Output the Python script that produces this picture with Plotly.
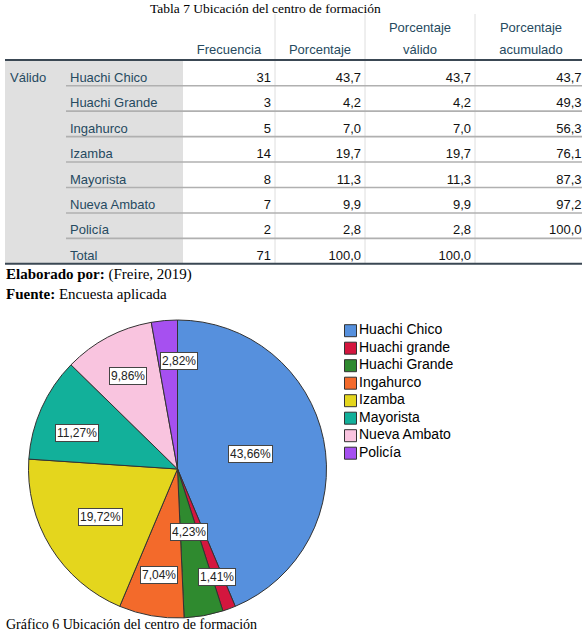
import math
import plotly.graph_objects as go

# ---------------- data ----------------
table_title = "Tabla 7 Ubicación del centro de formación"
group_label = "Válido"
categories = ["Huachi Chico", "Huachi Grande", "Ingahurco", "Izamba",
              "Mayorista", "Nueva Ambato", "Policía", "Total"]
frecuencia = [31, 3, 5, 14, 8, 7, 2, 71]
porcentaje = [43.7, 4.2, 7.0, 19.7, 11.3, 9.9, 2.8, 100.0]
porcentaje_valido = [43.7, 4.2, 7.0, 19.7, 11.3, 9.9, 2.8, 100.0]
porcentaje_acumulado = [43.7, 49.3, 56.3, 76.1, 87.3, 97.2, 100.0, None]
header_top = ["", "", "Porcentaje", "Porcentaje"]
header_bottom = ["Frecuencia", "Porcentaje", "válido", "acumulado"]
elaborado = ("Elaborado por:", "(Freire, 2019)")
fuente = ("Fuente:", "Encuesta aplicada")
chart_caption = "Gráfico 6 Ubicación del centro de formación"

pie_labels = ["Huachi Chico", "Huachi grande", "Huachi Grande", "Ingahurco",
              "Izamba", "Mayorista", "Nueva Ambato", "Policía"]
pie_counts = [31, 1, 3, 5, 14, 8, 7, 2]

# ---------------- style ----------------
pie_colors = ["#5690dd", "#d4163e", "#2f8a2f", "#f36a2b",
              "#e4d61d", "#12b09a", "#f9c4df", "#a650f0"]
W, H = 582, 633
SANS = "Liberation Sans, Arial, sans-serif"
SERIF = "Liberation Serif, Times New Roman, serif"
HEAD_COLOR = "#264A60"
NUM_COLOR = "#111111"
col_edges = [5, 66, 183, 275, 365, 475, 587]
row_text0 = 78.5
row_h = 25.45
pad = 4
header_y = (29, 51)
header_line_y = 60

pie_cx, pie_cy, pie_r = 177.5, 469, 149
label_frac = [0.5, 0.77, 0.43, 0.72, 0.61, 0.72, 0.71, 0.73]
label_dx = [0, 0, 0, 0, 0, -3, 0, 11]
label_dy = [0, 0, 0, 0, 0, 8, 0, 0]
legend_x, legend_y0, legend_dy = 350.5, 330.7, 17.5


def fmt(v):
    return "" if v is None else f"{v:.1f}".replace(".", ",")


def row_y(i):
    return row_text0 + row_h * i


n = len(categories)
rows_y = [row_y(i) for i in range(n)]
sep_y = [y + 7.2 for y in rows_y]

fig = go.Figure()

# table: group label + row labels
fig.add_trace(go.Scatter(x=[col_edges[0] + 5], y=[rows_y[0]], mode="text",
                         text=[group_label], textposition="middle right",
                         textfont=dict(family=SANS, size=13, color=HEAD_COLOR),
                         hoverinfo="skip", showlegend=False))
fig.add_trace(go.Scatter(x=[col_edges[1] + 4] * n, y=rows_y, mode="text",
                         text=categories, textposition="middle right",
                         textfont=dict(family=SANS, size=13, color=HEAD_COLOR),
                         hoverinfo="skip", showlegend=False))

# numeric columns
num_cols = [
    [str(v) for v in frecuencia],
    [fmt(v) for v in porcentaje],
    [fmt(v) for v in porcentaje_valido],
    [fmt(v) for v in porcentaje_acumulado],
]
for j, col in enumerate(num_cols):
    xr = min(col_edges[j + 3] - pad, W - 0.5)
    fig.add_trace(go.Scatter(x=[xr] * n, y=rows_y, mode="text", text=col,
                             textposition="middle left",
                             textfont=dict(family=SANS, size=13, color=NUM_COLOR),
                             hoverinfo="skip", showlegend=False, cliponaxis=False))
    xc = (col_edges[j + 2] + col_edges[j + 3]) / 2
    fig.add_trace(go.Scatter(x=[xc, xc], y=list(header_y), mode="text",
                             text=[header_top[j], header_bottom[j]],
                             textposition="middle center",
                             textfont=dict(family=SANS, size=13, color=HEAD_COLOR),
                             hoverinfo="skip", showlegend=False, cliponaxis=False))

shapes = []
shapes.append(dict(type="rect", xref="x", yref="y", x0=col_edges[0], x1=col_edges[2],
                   y0=header_line_y, y1=sep_y[-1], fillcolor="#e0e0e0",
                   line=dict(width=0), layer="below"))
for xv in col_edges[3:6]:
    shapes.append(dict(type="line", xref="x", yref="y", x0=xv, x1=xv, y0=14, y1=sep_y[-1],
                       line=dict(color="#dedede", width=1), layer="below"))
for y in sep_y[:-1]:
    shapes.append(dict(type="line", xref="x", yref="y", x0=col_edges[1], x1=col_edges[-1],
                       y0=y, y1=y, line=dict(color="#b0b0b0", width=1.6), layer="below"))
for y in (header_line_y, sep_y[-1]):
    shapes.append(dict(type="line", xref="x", yref="y", x0=col_edges[0], x1=col_edges[-1],
                       y0=y, y1=y, line=dict(color="#3a4753", width=2), layer="below"))

# pie
fig.add_trace(go.Pie(labels=pie_labels, values=pie_counts, sort=False,
                     direction="clockwise", rotation=0, textinfo="none",
                     hoverinfo="skip", showlegend=False,
                     marker=dict(colors=pie_colors, line=dict(color="#333333", width=1)),
                     domain=dict(x=[(pie_cx - pie_r) / W, (pie_cx + pie_r) / W],
                                 y=[1 - (pie_cy + pie_r) / H, 1 - (pie_cy - pie_r) / H])))

# legend (square swatches + labels)
fig.add_trace(go.Scatter(x=[legend_x] * len(pie_labels),
                         y=[legend_y0 + legend_dy * i for i in range(len(pie_labels))],
                         mode="markers+text", text=pie_labels, textposition="middle right",
                         textfont=dict(family=SANS, size=14, color="#000000"),
                         marker=dict(symbol="square", size=12, color=pie_colors,
                                     line=dict(color="#333333", width=1)),
                         hoverinfo="skip", showlegend=False, cliponaxis=False))

annotations = []
total = sum(pie_counts)
cum = 0
for i, v in enumerate(pie_counts):
    mid = (cum + v / 2) / total * 2 * math.pi
    cum += v
    f = label_frac[i]
    lx = pie_cx + f * pie_r * math.sin(mid) + label_dx[i]
    ly = pie_cy - f * pie_r * math.cos(mid) + label_dy[i]
    txt = f"{v / total * 100:.2f}%".replace(".", ",")
    annotations.append(dict(x=lx, y=ly, xref="x", yref="y", text=txt, showarrow=False,
                            font=dict(family=SANS, size=12, color="#222222"),
                            bgcolor="#ffffff", bordercolor="#444444", borderwidth=1,
                            borderpad=1))

annotations.append(dict(x=265, y=0, xref="x", yref="y", yanchor="top", text=table_title,
                        showarrow=False, borderpad=0,
                        font=dict(family=SERIF, size=13.5, color="#000000")))
annotations.append(dict(x=4, y=274, xref="x", yref="y", xanchor="left",
                        text=f"<b>{elaborado[0]}</b> {elaborado[1]}", showarrow=False,
                        font=dict(family=SERIF, size=15, color="#000000")))
annotations.append(dict(x=4, y=294, xref="x", yref="y", xanchor="left",
                        text=f"<b>{fuente[0]}</b> {fuente[1]}", showarrow=False,
                        font=dict(family=SERIF, size=15, color="#000000")))
annotations.append(dict(x=5, y=H, xref="x", yref="y", xanchor="left", yanchor="bottom",
                        text=chart_caption, showarrow=False, borderpad=0,
                        font=dict(family=SERIF, size=14, color="#000000")))

fig.update_layout(
    width=W, height=H, margin=dict(l=0, r=0, t=0, b=0),
    paper_bgcolor="#ffffff", plot_bgcolor="rgba(0,0,0,0)",
    xaxis=dict(range=[0, W], visible=False, fixedrange=True, domain=[0, 1]),
    yaxis=dict(range=[H, 0], visible=False, fixedrange=True, domain=[0, 1]),
    shapes=shapes, annotations=annotations, showlegend=False,
)

fig.write_html("out.html")
